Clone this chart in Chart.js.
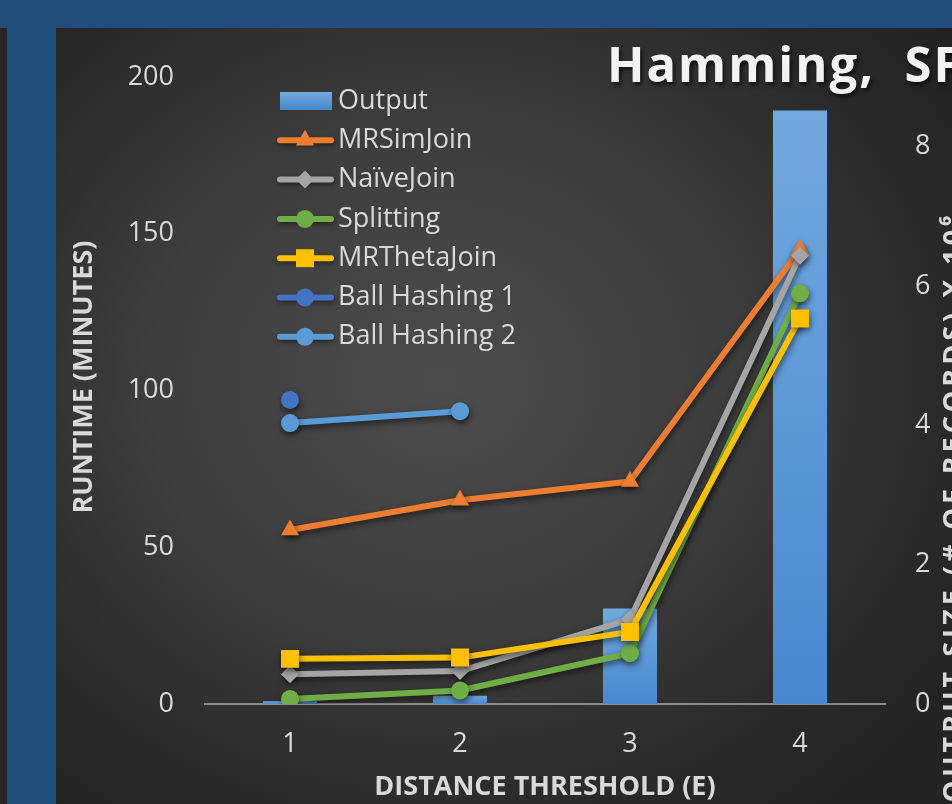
<!DOCTYPE html>
<html><head><meta charset="utf-8">
<script src="https://cdn.jsdelivr.net/npm/chart.js@4.4.1/dist/chart.umd.min.js"></script>
<style>
html,body{margin:0;padding:0;width:952px;height:804px;overflow:hidden;background:#1F4E79;}
#dark{position:absolute;left:0;top:28px;width:7px;height:776px;background:#262626;}
#panel{position:absolute;left:56px;top:28px;width:896px;height:776px;overflow:hidden;
 background:radial-gradient(ellipse 640px 560px at 384px 352px,#4c4c4c 0%,#3d3d3d 45%,#292929 80%,#232323 100%);}
#panel canvas{position:absolute;left:0;top:0;}
</style></head>
<body><div id="dark"></div><div id="panel"><canvas id="c" width="896" height="776"></canvas></div>
<script>
// ---- data ----
const categories = ['1', '2', '3', '4'];
const outputSize = [0.04, 0.12, 1.37, 8.52];        // right axis
const mrSimJoin = [55.5, 65, 71, 145];
const naiveJoin = [9.5, 10.5, 27, 143];
const splitting = [1.6, 4.3, 16.2, 131];
const mrThetaJoin = [14.4, 14.8, 23, 123];
const ballHashing1 = [97, null, null, null];
const ballHashing2 = [89.6, 93.4, null, null];
const leftTicks = [0, 50, 100, 150, 200];
const rightTicks = [0, 2, 4, 6, 8];
const titleText = 'Hamming,  SF';
const leftTitle = 'RUNTIME (MINUTES)';
const rightTitle = 'OUTPUT SIZE (# OF RECORDS) X 10⁶';
const xTitle = 'DISTANCE THRESHOLD (E)';

// ---- styles ----
const TXT = '#D9D9D9';
const FONT = 'Open Sans';
const OX = 56, OY = 28; // panel offset in page

function barFill(ctx) {
  const chart = ctx.chart;
  if (ctx.type !== 'data' || !chart.chartArea) return '#5B9BD5';
  const s = chart.scales.y2;
  const top = s.getPixelForValue(ctx.raw);
  let bot = s.getPixelForValue(0);
  if (bot - top < 1) bot = top + 1;
  const g = chart.ctx.createLinearGradient(0, top, 0, bot);
  g.addColorStop(0, '#72A9DE');
  g.addColorStop(1, '#4888CE');
  return g;
}

function lineDs(label, data, color, style, radius, order) {
  return {
    type: 'line', label, data, yAxisID: 'y', order,
    borderColor: color, backgroundColor: color, borderWidth: 6,
    borderJoinStyle: 'round', borderCapStyle: 'round', tension: 0,
    pointStyle: style, pointRadius: radius, pointHoverRadius: radius,
    pointBackgroundColor: color, pointBorderColor: color, pointBorderWidth: 0,
    spanGaps: false
  };
}

const datasets = [
  { type: 'bar', label: 'Output', data: outputSize, yAxisID: 'y2', order: 20,
    backgroundColor: barFill, borderWidth: 0, barPercentage: 1, categoryPercentage: 0.318 },
  lineDs('MRSimJoin', mrSimJoin, '#ED7D31', 'triangle', 10.5, 6),
  lineDs('NaïveJoin', naiveJoin, '#A5A5A5', 'rectRot', 9, 5),
  lineDs('Splitting', splitting, '#70AD47', 'circle', 9, 4),
  lineDs('MRThetaJoin', mrThetaJoin, '#FFC000', 'rect', 12.7, 3),
  lineDs('Ball Hashing 1', ballHashing1, '#4472C4', 'circle', 9, 2),
  lineDs('Ball Hashing 2', ballHashing2, '#5B9BD5', 'circle', 9, 1)
];

const shadowPlugin = {
  id: 'lineShadow',
  beforeDatasetDraw(chart, args) {
    if (chart.data.datasets[args.index].type === 'line') {
      const c = chart.ctx; c.save();
      c.shadowColor = 'rgba(0,0,0,0.55)'; c.shadowBlur = 6; c.shadowOffsetX = 1; c.shadowOffsetY = 3;
    }
  },
  afterDatasetDraw(chart, args) {
    if (chart.data.datasets[args.index].type === 'line') chart.ctx.restore();
  }
};

const decoPlugin = {
  id: 'deco',
  afterDraw(chart) {
    const c = chart.ctx;
    // title
    c.save();
    c.font = 'bold 49px "' + FONT + '"';
    try { c.letterSpacing = '2px'; } catch (e) {}
    c.fillStyle = '#F2F2F2'; c.textBaseline = 'middle'; c.textAlign = 'left';
    c.shadowColor = 'rgba(0,0,0,0.65)'; c.shadowBlur = 4; c.shadowOffsetX = 2; c.shadowOffsetY = 3;
    c.fillText(titleText, 607 - OX, 68 - OY);
    c.restore();
    // left axis title
    c.save();
    c.font = 'bold 27px "' + FONT + '"'; c.fillStyle = TXT; c.textAlign = 'center'; c.textBaseline = 'middle';
    c.translate(84.5 - OX, 377 - OY); c.rotate(-Math.PI / 2); c.fillText(leftTitle, 0, 0);
    c.restore();
    // right axis title (cut at the edge)
    c.save();
    c.font = 'bold 27px "' + FONT + '"'; c.fillStyle = TXT; c.textAlign = 'center'; c.textBaseline = 'middle';
    try { c.letterSpacing = '4px'; } catch (e) {}
    c.translate(954 - OX, 507 - OY); c.rotate(-Math.PI / 2); c.fillText(rightTitle, 0, 0);
    c.restore();
    // legend
    const H = Chart.helpers;
    chart.data.datasets.forEach((ds, i) => {
      const cy = 101 + i * 39.3 - OY;
      c.save();
      if (ds.type === 'bar') {
        const g = c.createLinearGradient(0, cy - 9, 0, cy + 9);
        g.addColorStop(0, '#72A9DE'); g.addColorStop(1, '#4888CE');
        c.fillStyle = g; c.fillRect(280 - OX, cy - 9, 52, 18);
      } else {
        c.shadowColor = 'rgba(0,0,0,0.5)'; c.shadowBlur = 5; c.shadowOffsetX = 1; c.shadowOffsetY = 2;
        c.strokeStyle = ds.borderColor; c.lineWidth = 6; c.lineCap = 'round';
        c.beginPath(); c.moveTo(280 - OX, cy); c.lineTo(331 - OX, cy); c.stroke();
        c.shadowColor = 'rgba(0,0,0,0)';
        c.fillStyle = ds.pointBackgroundColor; c.strokeStyle = ds.pointBorderColor;
        H.drawPoint(c, { pointStyle: ds.pointStyle, radius: ds.pointRadius, rotation: 0, borderWidth: 0 }, 305 - OX, cy);
      }
      c.restore();
      c.save();
      c.font = '27px "' + FONT + '"'; c.fillStyle = TXT; c.textAlign = 'left'; c.textBaseline = 'middle';
      c.fillText(ds.label, 338 - OX, cy);
      c.restore();
    });
  }
};

const tickFont = { family: FONT, size: 27 };

new Chart(document.getElementById('c'), {
  data: { labels: categories, datasets },
  options: {
    responsive: false, animation: false, devicePixelRatio: 1,
    layout: { padding: { top: 49, left: 0, right: 0, bottom: 0 } },
    plugins: { legend: { display: false }, tooltip: { enabled: false }, title: { display: false } },
    scales: {
      x: {
        type: 'category', offset: true,
        grid: { display: false, drawTicks: false },
        border: { display: true, color: '#8A8A8A', width: 2 },
        ticks: { color: TXT, font: tickFont, padding: 24, maxRotation: 0 },
        title: { display: true, text: xTitle, color: TXT, font: { family: FONT, size: 27, weight: 'bold' }, padding: { top: 0, bottom: 0 } },
        afterFit(s) { s.height = 100; }
      },
      y: {
        position: 'left', min: 0, max: 200,
        afterBuildTicks(s) { s.ticks = leftTicks.map(v => ({ value: v })); },
        grid: { display: false, drawTicks: false }, border: { display: false },
        ticks: { color: TXT, font: tickFont, padding: 31 },
        afterFit(s) { s.width = 149; }
      },
      y2: {
        position: 'right', min: 0, max: 9,
        afterBuildTicks(s) { s.ticks = rightTicks.map(v => ({ value: v })); },
        grid: { display: false, drawTicks: false }, border: { display: false },
        ticks: { color: TXT, font: tickFont, padding: 30 },
        afterFit(s) { s.width = 67; }
      }
    }
  },
  plugins: [shadowPlugin, decoPlugin]
});
</script>
</body></html>
